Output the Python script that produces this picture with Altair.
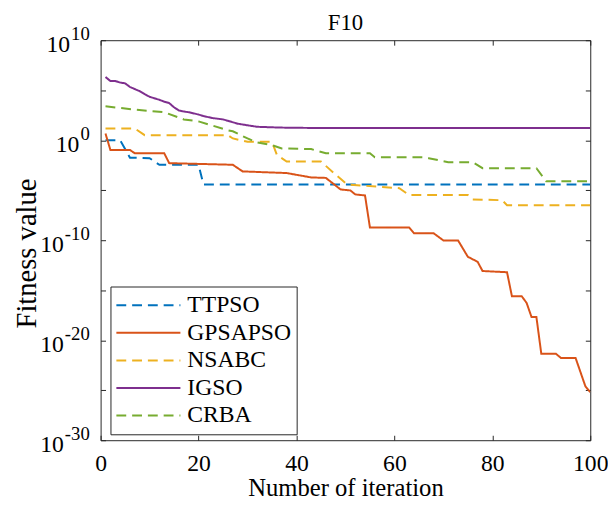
import altair as alt
import pandas as pd

# ---- data ----
series = ["TTPSO", "GPSAPSO", "NSABC", "IGSO", "CRBA"]
colors = ["#0072BD", "#D95319", "#EDB120", "#7E2F8E", "#77AC30"]
dashes = [[10, 6], [1, 0], [10, 6], [1, 0], [10, 6]]

it_ttpso = [1, 4, 6, 10, 12, 20, 21, 100]
val_ttpso = [1.0, 1.0, 1.8e-2, 1.6e-2, 3.5e-3, 3.5e-3, 3.8e-5, 3.8e-5]

it_gpsapso = [1, 2, 6, 7, 13, 14, 27, 29, 38, 43, 46, 49, 51, 52, 54, 55, 63, 64, 68, 70,
              73, 75, 77, 78, 83, 84, 86, 87, 88, 89, 90, 93, 94, 97, 99, 100]
val_gpsapso = [4.6, 1.05e-1, 1.05e-1, 4.9e-2, 4.9e-2, 5.1e-3, 3.5e-3, 7.6e-4, 5.2e-4, 1.9e-4,
               1.7e-4, 1.2e-5, 9.5e-6, 3.8e-6, 3.0e-6, 1.9e-9, 1.9e-9, 5.0e-10, 5.0e-10, 9.5e-11,
               9.5e-11, 2.2e-12, 6.9e-13, 8.3e-14, 6.3e-14, 2.5e-16, 2.5e-16, 5.4e-17, 2.1e-18, 2.1e-18,
               4.4e-22, 4.4e-22, 1.7e-22, 1.7e-22, 2.5e-25, 6.3e-26]

it_nsabc = [1, 7, 9, 26, 27, 30, 35, 36, 38, 45, 48, 50, 51, 61, 63, 75, 76, 82, 83, 100]
val_nsabc = [14.5, 14.5, 3.2, 3.2, 1.5, 0.69, 0.69, 3.4e-2, 7.4e-3, 7.4e-3, 3.6e-4, 5.4e-5,
             3.5e-5, 1.6e-5, 3.3e-6, 3.3e-6, 1.2e-6, 1.0e-6, 3.2e-7, 3.2e-7]

it_igso = [1, 2, 3, 4, 5, 6, 8, 9, 10, 12, 13, 14, 15, 16, 17, 18, 20, 21, 23, 25, 26, 28,
           30, 32, 35, 38, 45, 100]
val_igso = [2.1e6, 8.3e5, 8.3e5, 5.8e5, 4.9e5, 2.1e5, 7.9e4, 4.1e4, 2.2e4, 1.1e4, 7.1e3, 5.2e3,
            1.95e3, 9.3e2, 7.4e2, 6.3e2, 3.7e2, 2.6e2, 1.6e2, 1.2e2, 87, 45, 31, 22, 19.5, 17.8,
            16.6, 16.6]

it_crba = [1, 7, 13, 17, 20, 26, 27, 30, 32, 35, 37, 43, 46, 55, 56, 66, 67, 71, 76, 78, 89, 91, 100]
val_crba = [2.45e3, 1.15e3, 6.3e2, 1.2e2, 76, 9.8, 7.8, 1.5, 0.60, 0.32, 0.15, 0.13, 4.9e-2,
            4.9e-2, 2.0e-2, 2.0e-2, 1.6e-2, 6.3e-3, 6.3e-3, 1.6e-3, 1.6e-3, 7.9e-5, 7.9e-5]

x_ticks = [0, 20, 40, 60, 80, 100]
y_ticks = [1e10, 1e5, 1e0, 1e-5, 1e-10, 1e-15, 1e-20, 1e-25, 1e-30]
y_label_exps = ["10", "0", "-10", "-20", "-30"]

# ---- tables ----
rows = []
for name, its, vals in [("TTPSO", it_ttpso, val_ttpso), ("GPSAPSO", it_gpsapso, val_gpsapso),
                        ("NSABC", it_nsabc, val_nsabc), ("IGSO", it_igso, val_igso),
                        ("CRBA", it_crba, val_crba)]:
    for i, v in zip(its, vals):
        rows.append({"series": name, "iter": i, "val": v})
df = pd.DataFrame(rows)

lab = pd.DataFrame({"t": y_label_exps, "v": [10.0 ** int(e) for e in y_label_exps]})

FONT = "Liberation Serif"
TICK = "#262626"

legend = alt.Legend(
    title=None, orient="none", legendX=10, legendY=250,
    fillColor="white", strokeColor="#262626", padding=5, cornerRadius=0,
    symbolType="stroke", symbolSize=4225, symbolStrokeWidth=2, clipHeight=28,
    rowPadding=0, labelFont=FONT, labelFontSize=24, labelColor="black", labelOffset=6,
)

xscale = alt.Scale(domain=[0, 100], nice=False, zero=False)
yscale = alt.Scale(type="log", domain=[1e-30, 1e10], nice=False)

lines = alt.Chart(df).mark_line(strokeWidth=2, clip=True).encode(
    x=alt.X("iter:Q", scale=xscale, axis=alt.Axis(
        values=x_ticks, orient="bottom", offset=-5, tickSize=5, tickColor=TICK, domain=False,
        grid=False, labelFont=FONT, labelFontSize=24, labelColor="black", labelPadding=12,
        labelFlush=False, labelOverlap=False,
        title="Number of iteration", titleFont=FONT, titleFontSize=25, titleFontWeight="normal",
        titleColor="black", titlePadding=0)),
    y=alt.Y("val:Q", scale=yscale, axis=alt.Axis(
        values=y_ticks, orient="left", offset=-5, tickSize=5, tickColor=TICK, domain=False,
        grid=False, labels=False, title="Fitness value", titleFont=FONT, titleFontSize=29,
        titleFontWeight="normal", titleColor="black", titlePadding=60, titleY=216)),
    color=alt.Color("series:N", scale=alt.Scale(domain=series, range=colors), legend=legend),
    strokeDash=alt.StrokeDash("series:N", scale=alt.Scale(domain=series, range=dashes), legend=legend),
)

frame = alt.Chart(df).mark_point(opacity=0, size=1).encode(
    x=alt.X("iter:Q", scale=xscale, axis=alt.Axis(
        values=x_ticks, orient="top", offset=-5, tickSize=5, tickColor=TICK, domain=False,
        grid=False, labels=False, title=None)),
    y=alt.Y("val:Q", scale=yscale, axis=alt.Axis(
        values=y_ticks, orient="right", offset=-5, tickSize=5, tickColor=TICK, domain=False,
        grid=False, labels=False, title=None)),
)

exp_text = alt.Chart(lab).mark_text(
    font=FONT, fontSize=19, align="right", baseline="middle", dy=-6, color="black"
).encode(
    x=alt.value(-11),
    y=alt.Y("v:Q", scale=yscale, axis=None),
    text="t:N",
)

base_text = alt.Chart(lab).transform_calculate(
    bx="-12 - (indexof(datum.t, '-') == 0 ? 6.3 + 9.5 * (length(datum.t) - 1) : 9.5 * length(datum.t))"
).mark_text(
    font=FONT, fontSize=24, align="right", baseline="middle", dy=5, color="black"
).encode(
    x=alt.X("bx:Q", scale=None),
    y=alt.Y("v:Q", scale=yscale, axis=None),
    text=alt.value("10"),
)

chart = alt.layer(lines, frame, exp_text, base_text).resolve_axis(
    x="independent", y="independent"
).properties(
    width=497, height=406,
    title=alt.TitleParams("F10", font=FONT, fontSize=23, fontWeight="normal", color="black",
                          anchor="middle", frame="group", offset=-10),
    autosize=alt.AutoSizeParams(type="none"),
    padding={"left": 94, "top": 29, "right": 18, "bottom": 58},
).configure_view(stroke="#262626", strokeWidth=1)

chart.save("out.html", embed_options={"renderer": "svg", "actions": False})
